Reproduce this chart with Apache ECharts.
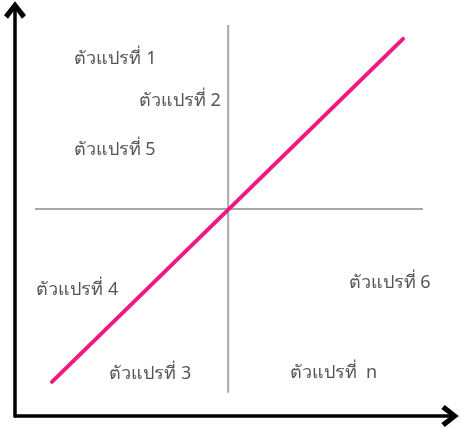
<!DOCTYPE html>
<html>
<head>
    <meta charset="utf-8">
    <title>ตัวแปร</title>
    <script src="https://cdn.jsdelivr.net/npm/echarts@6/dist/echarts.min.js"></script>
    <style>
        html, body { margin: 0; padding: 0; background: #fff; }
        #main { width: 460px; height: 429px; }
    </style>
</head>
<body>
    <div id="main"></div>
    <script type="text/javascript">
        // ชื่อตัวแปรและตำแหน่ง (หน่วยของแกน 0-100)
        var labelNames = ['ตัวแปรที่ 1', 'ตัวแปรที่ 2', 'ตัวแปรที่ 5', 'ตัวแปรที่ 4', 'ตัวแปรที่ 3', 'ตัวแปรที่  n', 'ตัวแปรที่ 6'];
        var labelX = [23.1, 37.9, 22.9, 14.3, 31.1, 73.2, 86.1];
        var labelY = [87.9, 77.6, 65.5, 31.0, 10.3, 10.5, 32.8];

        // เส้นแบ่ง 4 ส่วน
        var vLineX = [49.0, 49.0];
        var vLineY = [96.3, 5.7];
        var hLineX = [4.6, 93.8];
        var hLineY = [51.0, 51.0];

        // เส้นทแยงสีชมพู
        var diagX = [8.5, 89.2];
        var diagY = [8.4, 92.9];

        function pairs(xs, ys) {
            var out = [];
            for (var i = 0; i < xs.length; i++) {
                out.push([xs[i], ys[i]]);
            }
            return out;
        }

        var labelData = [];
        for (var i = 0; i < labelNames.length; i++) {
            labelData.push({ name: labelNames[i], value: [labelX[i], labelY[i]] });
        }

        // หัวลูกศรแบบเปิด
        var chevron = 'path://M0,14 L11,0 L22,14 L18,17.5 L11,8 L4,17.5 Z';

        var axisCommon = {
            type: 'value',
            min: 0,
            max: 100,
            splitLine: { show: false },
            axisTick: { show: false },
            axisLabel: { show: false },
            axisLine: {
                show: true,
                symbol: ['none', chevron],
                symbolSize: [22, 17.5],
                lineStyle: { color: '#000', width: 3.5 }
            }
        };

        var myChart = echarts.init(document.getElementById('main'));
        myChart.setOption({
            animation: false,
            grid: { left: 15, right: 10, top: 10, bottom: 13 },
            xAxis: axisCommon,
            yAxis: axisCommon,
            series: [
                {
                    type: 'line',
                    data: pairs(vLineX, vLineY),
                    symbol: 'none',
                    lineStyle: { color: '#a8a8a8', width: 2 }
                },
                {
                    type: 'line',
                    data: pairs(hLineX, hLineY),
                    symbol: 'none',
                    lineStyle: { color: '#a8a8a8', width: 2 }
                },
                {
                    type: 'line',
                    data: pairs(diagX, diagY),
                    symbol: 'none',
                    lineStyle: { color: '#ee1a80', width: 4, cap: 'round' }
                },
                {
                    type: 'scatter',
                    data: labelData,
                    symbolSize: 0,
                    label: {
                        show: true,
                        position: 'inside',
                        formatter: '{b}',
                        color: '#2a2a2a',
                        fontSize: 18,
                        fontFamily: 'Noto Sans, sans-serif'
                    }
                }
            ]
        });
    </script>
</body>
</html>
